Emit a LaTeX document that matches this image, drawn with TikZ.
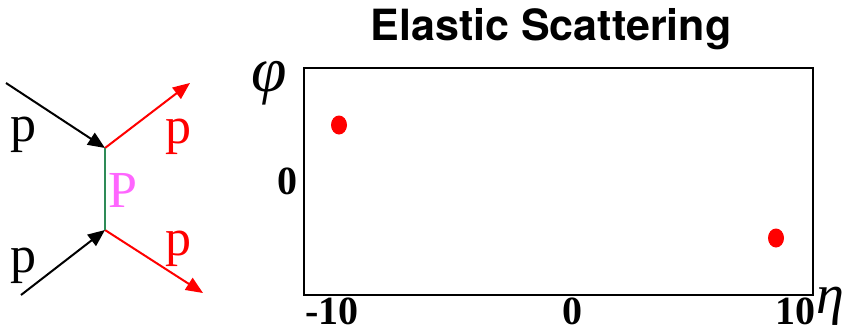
\documentclass[tikz,border=0pt]{standalone}
\usepackage{fontspec}
\setmainfont{Liberation Serif}
\newfontfamily\headfont{TeX Gyre Heros}
\usetikzlibrary{positioning, arrows.meta, shapes.geometric}
\definecolor{pomeron}{RGB}{255,102,255}
\definecolor{tline}{RGB}{46,139,87}
\tikzset{
    inleg/.style={line width=2pt, -{Triangle[length=17pt, width=14pt]}},
    outleg/.style={inleg, red},
    exch/.style={line width=2pt, tline},
    plabel/.style={inner sep=0pt, font=\fontsize{52}{56}\selectfont, anchor=base},
    tick/.style={inner sep=0pt, font=\fontsize{40}{44}\selectfont\bfseries},
    axis/.style={inner sep=0pt, font=\fontsize{64}{68}\selectfont\itshape},
    hit/.style={ellipse, fill=red, inner sep=0pt, minimum width=16pt, minimum height=19pt},
    frame/.style={draw, line width=2pt, inner sep=0pt, minimum width=509pt, minimum height=227pt}
}

\begin{document}
\begin{tikzpicture}[x=1pt, y=-1pt]
  \useasboundingbox (0,0) rectangle (846,333);
  % Feynman diagram
  \coordinate(V1) at (105,148);
  \coordinate(V2) at (105,230);
  \coordinate(A) at (6,83);
  \coordinate(B) at (21,295);
  \coordinate(C) at (190,83);
  \coordinate(D) at (203,293);
  \draw[inleg](A)--(V1);
  \draw[inleg](B)--(V2);
  \draw[outleg](V1)--(C);
  \draw[outleg](V2)--(D);
  \draw[exch](V1)--(V2);
  \node(pa)[plabel] at (23,141){p};
  \node(pb)[plabel] at (23,272){p};
  \node(pc)[plabel, red] at (178,143){p};
  \node(pd)[plabel, red] at (178,255){p};
  \node(P)[plabel, pomeron] at (123,207){P};
  % eta-phi plot
  \node(title)[inner sep=0pt, anchor=base, font=\headfont\fontsize{43}{47}\selectfont\bfseries] at (551,40){Elastic Scattering};
  \node(box)[frame, anchor=north west] at (303,67){};
  \node(h1)[hit] at (339,125){};
  \node(h2)[hit] at (776,238){};
  \node(phi)[axis] at (269,83){φ};
  \node(eta)[axis, font=\fontsize{56}{60}\selectfont\itshape] at (830,306){η};
  \node(y0)[tick, left=5pt of box.west]{0};
  \node(xm)[tick, anchor=north] at (332,298){-10};
  \node(x0)[tick, anchor=north] at (572,298){0};
  \node(xp)[tick, anchor=north] at (795,298){10};
\end{tikzpicture}
\end{document}
